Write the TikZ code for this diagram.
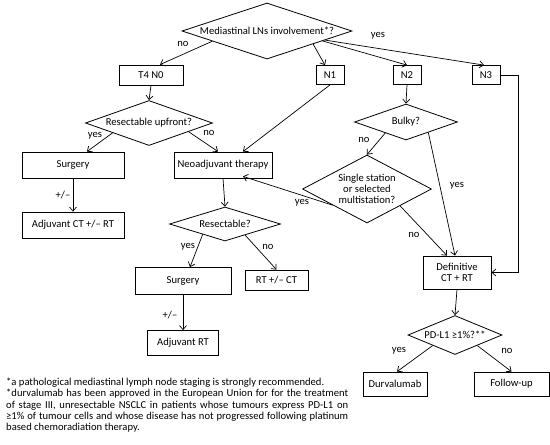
\documentclass[tikz,border=0pt]{standalone}
\usepackage{fontspec}
\setmainfont{Carlito}
\usetikzlibrary{arrows.meta, calc, shapes.geometric}
\tikzset{
    box/.style={draw, line width=0.8pt, rectangle, inner sep=0pt, align=center},
    decision/.style={draw, line width=0.8pt, diamond, inner sep=0pt, align=center},
    flow/.style={->, line width=0.7pt},
    lbl/.style={inner sep=0pt},
}
\begin{document}
\begin{tikzpicture}[x=1pt, y=-1pt, >={Straight Barb[length=4pt, width=7pt]},
    every node/.append style={font=\fontsize{10.6}{11.2}\selectfont}]
    \useasboundingbox (0,0) rectangle (550,445);
    % decisions
    \node[decision, shape aspect=3.04, minimum width=170pt, minimum height=56pt] (mli) at (267,31) {Mediastinal LNs involvement*?};
    \node[decision, shape aspect=2.82, minimum width=127pt, minimum height=45pt] (ru) at (149,123) {Resectable upfront?};
    \node[decision, shape aspect=3.26, minimum width=111pt, minimum height=34pt] (res) at (225,224) {Resectable?};
    \node[decision, shape aspect=2.86, minimum width=103pt, minimum height=36pt] (bulky) at (406,122) {Bulky?};
    \node[decision, shape aspect=1.9, minimum width=129pt, minimum height=68pt] (ss) at (367,189) {Single station\\or selected\\multistation?};
    \node[decision, shape aspect=2.41, minimum width=94pt, minimum height=39pt] (pdl) at (455,335) {PD-L1 ≥1\%?**};
    % boxes
    \node[box, minimum width=64pt, minimum height=20pt] (t4n0) at (151,75) {T4 N0};
    \node[box, minimum width=28pt, minimum height=19pt] (n1) at (330,75) {N1};
    \node[box, minimum width=28pt, minimum height=19pt] (n2) at (407,75) {N2};
    \node[box, minimum width=28pt, minimum height=19pt] (n3) at (486,75) {N3};
    \node[box, minimum width=102pt, minimum height=26pt] (surg1) at (73,165) {Surgery};
    \node[box, minimum width=102pt, minimum height=26pt] (adj1) at (73,225) {Adjuvant CT +/– RT};
    \node[box, minimum width=98pt, minimum height=26pt] (neo) at (223,165) {Neoadjuvant therapy};
    \node[box, minimum width=96pt, minimum height=27pt] (surg2) at (183,281) {Surgery};
    \node[box, minimum width=63pt, minimum height=20pt] (rtct) at (276.5,280) {RT +/– CT};
    \node[box, minimum width=71pt, minimum height=25pt] (adjrt) at (183,343) {Adjuvant RT};
    \node[box, minimum width=68pt, minimum height=33pt] (def) at (457,272.5) {Definitive\\CT + RT};
    \node[box, minimum width=64pt, minimum height=24pt] (durv) at (395,384) {Durvalumab};
    \node[box, minimum width=75pt, minimum height=24pt] (fup) at (511.5,384) {Follow-up};
    % connectors
    \draw[flow] ($(mli.west)!0.36!(mli.south)$) -- ($(t4n0.north)+(9,0)$);
    \draw[flow] ($(mli.east)!0.46!(mli.south)$) -- ($(n1.north)+(-5,0)$);
    \draw[flow] ($(mli.east)!0.35!(mli.south)$) -- (n2.north);
    \draw[flow] ($(mli.east)!0.32!(mli.south)$) -- ($(n3.north)+(-2,0)$);
    \draw[flow] (t4n0.south) -- (ru.north);
    \draw[flow] ($(ru.west)!0.43!(ru.south)$) -- ($(surg1.north)+(14,0)$);
    \draw[flow] ($(ru.east)!0.38!(ru.south)$) -- ($(neo.north)+(-5,0)$);
    \draw[flow] (n1.south) -- ($(neo.north)+(20,0)$);
    \draw[flow] (surg1.south) -- (adj1.north);
    \draw[flow] (neo.south) -- (res.north);
    \draw[flow] ($(res.west)!0.6!(res.south)$) -- ($(surg2.north)+(7,0)$);
    \draw[flow] ($(res.east)!0.64!(res.south)$) -- (rtct.north);
    \draw[flow] (surg2.south) -- (adjrt.north);
    \draw[flow] (n2.south) -- (bulky.north);
    \draw[flow] ($(bulky.west)!0.6!(bulky.south)$) -- (ss.north);
    \draw[flow] ($(bulky.east)!0.57!(bulky.south)$) -- ($(def.north)+(-2,0)$);
    \draw[flow] ($(ss.west)!0.47!(ss.south)$) -- ($(neo.south)+(20,-2)$);
    \draw[flow] ($(ss.east)!0.49!(ss.south)$) -- ($(def.north)+(-10,0)$);
    \draw[flow] (n3.east) -- ++(18,0) |- (def.east);
    \draw[flow] (def.south) -- (pdl.north);
    \draw[flow] ($(pdl.west)!0.53!(pdl.south)$) -- ($(durv.north)+(2,0)$);
    \draw[flow] ($(pdl.east)!0.53!(pdl.south)$) -- (fup.north);
    % labels
    \node[lbl] (l1) at (183,44) {no};
    \node[lbl] (l2) at (378,36) {yes};
    \node[lbl] (l3) at (95,136) {yes};
    \node[lbl] (l4) at (209,133) {no};
    \node[lbl] (l5) at (63,195) {+/–};
    \node[lbl] (l6) at (188,247) {yes};
    \node[lbl] (l7) at (268,247) {no};
    \node[lbl] (l8) at (170,315) {+/–};
    \node[lbl] (l9) at (364,140) {no};
    \node[lbl] (l10) at (457,186) {yes};
    \node[lbl] (l11) at (302,203) {yes};
    \node[lbl] (l12) at (414,235) {no};
    \node[lbl] (l13) at (399,351) {yes};
    \node[lbl] (l14) at (507,351) {no};
    % footnote
    \node[lbl, anchor=north west, text width=342pt, align=justify] (note) at (6,378)
        {*a pathological mediastinal lymph node staging is strongly recommended.\\
        **durvalumab has been approved in the European Union for for the treatment\linebreak
        of stage III, unresectable NSCLC in patients whose tumours express PD-L1 on\linebreak
        ≥1\% of tumour cells and whose disease has not progressed following platinum\linebreak
        based chemoradiation therapy.};
\end{tikzpicture}
\end{document}
